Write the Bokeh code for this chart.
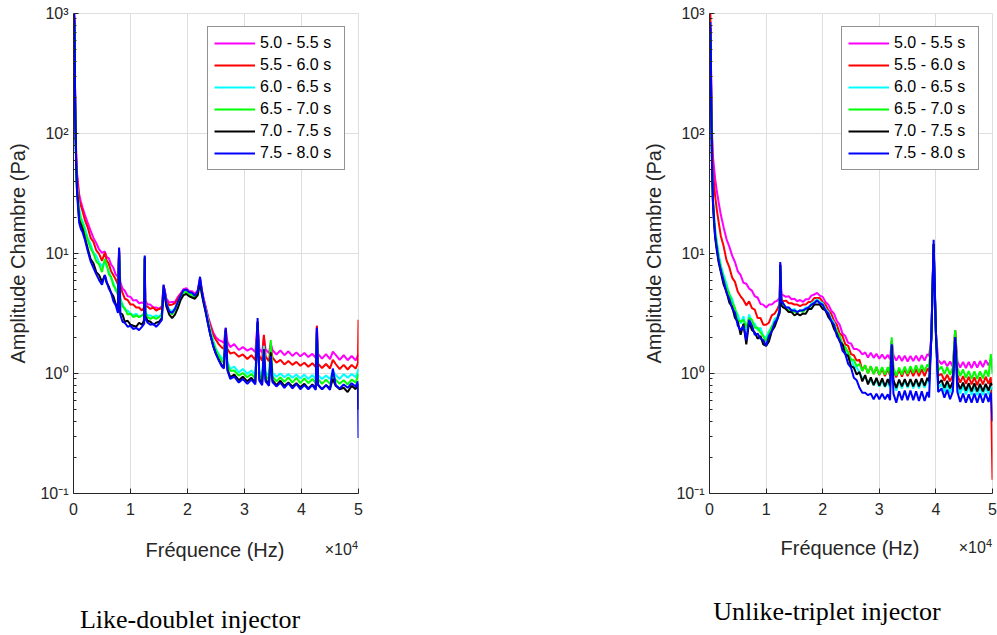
from bokeh.plotting import figure
from bokeh.models import (FixedTicker, Legend, LegendItem, Range1d, Div,
                          CustomJSTickFormatter)
from bokeh.layouts import row, column
from bokeh.embed import file_html
from bokeh.resources import INLINE

LABELS = ["5.0 - 5.5 s", "5.5 - 6.0 s", "6.0 - 6.5 s", "6.5 - 7.0 s", "7.0 - 7.5 s", "7.5 - 8.0 s"]
COLORS = ["#FF00FF", "#FF0000", "#00FFFF", "#00FF00", "#000000", "#0000FF"]
CAPTIONS = ["Like-doublet injector", "Unlike-triplet injector"]
X_LABEL = "Fréquence (Hz)"
Y_LABEL = "Amplitude Chambre (Pa)"
X_TICKS = [0, 10000, 20000, 30000, 40000, 50000]
X_TICK_LABELS = ["0", "1", "2", "3", "4", "5"]
Y_TICKS = [0.1, 1, 10, 100, 1000]
Y_MINOR = [0.2, 0.3, 0.4, 0.5, 0.6, 0.7, 0.8, 0.9, 2, 3, 4, 5, 6, 7, 8, 9,
           20, 30, 40, 50, 60, 70, 80, 90, 200, 300, 400, 500, 600, 700, 800, 900]

# ---------------- Like-doublet injector (left) ----------------
F_LEFT = [150, 250, 350, 450, 600, 800, 1000, 1300, 1600, 2000,
          2500, 3000, 3500, 4000, 4500, 5000, 5500, 5800, 6200, 6600,
          7000, 7400, 7800, 8000, 8200, 8600, 9000, 9500, 10000, 10500,
          11000, 11500, 12000, 12400, 12500, 12600, 13000, 13500, 14000, 14500,
          15000, 15500, 15800, 16000, 16300, 16800, 17300, 17800, 18300, 18800,
          19300, 19800, 20300, 20800, 21300, 21800, 22200, 22500, 22800, 23200,
          23600, 24000, 24500, 25000, 25500, 26000, 26400, 26700, 27000, 27500,
          28200, 29000, 29700, 30500, 31200, 31900, 32300, 32600, 33100, 33400,
          33700, 34300, 34600, 34900, 35600, 36300, 37000, 37700, 38400, 39100,
          39800, 40500, 41200, 41900, 42500, 42700, 42900, 43600, 44300, 45000,
          45500, 46000, 46700, 47400, 48100, 48800, 49500, 49900, 50000]

M_LEFT = [900, 300, 130, 75, 48, 38, 31, 27, 24, 21,
          18, 15.5, 13.5, 12.2, 10.8, 10.1, 10.4, 9.4, 9.1, 8.1,
          7.6, 6.7, 6.4, 11.0, 5.8, 5.1, 4.9, 4.4, 4.35, 4.05,
          4.1, 3.85, 3.9, 3.85, 9.0, 4.05, 3.75, 3.75, 3.55, 3.55,
          3.45, 3.65, 5.3, 5.0, 4.2, 3.9, 3.95, 3.95, 4.35, 4.65,
          5.05, 5.15, 4.85, 4.85, 4.6, 4.95, 6.2, 5.0, 4.3, 3.6,
          3.0, 2.6, 2.2, 2.0, 1.9, 1.85, 1.8, 2.4, 1.84, 1.66,
          1.76, 1.57, 1.66, 1.55, 1.62, 1.51, 2.7, 1.6, 1.5, 2.0,
          1.59, 1.48, 1.8, 1.57, 1.44, 1.56, 1.42, 1.53, 1.4, 1.5,
          1.39, 1.48, 1.37, 1.46, 1.35, 2.5, 1.46, 1.33, 1.45, 1.32,
          1.52, 1.43, 1.3, 1.42, 1.29, 1.4, 1.29, 1.42, 1.4]

R_LEFT = [950, 280, 120, 70, 45, 36, 28, 25, 22.5, 19,
          16.5, 13.5, 12.5, 10.6, 9.9, 8.7, 10.2, 8.8, 8.2, 7.1,
          6.6, 6.1, 5.5, 10.5, 5.3, 4.7, 4.2, 4.1, 3.75, 3.75,
          3.55, 3.55, 3.35, 3.55, 9.0, 3.65, 3.6, 3.45, 3.55, 3.35,
          3.45, 3.5, 5.4, 4.9, 4.0, 3.7, 3.75, 3.85, 4.2, 4.6,
          4.9, 5.0, 4.75, 4.7, 4.5, 4.8, 6.0, 4.9, 4.2, 3.5,
          2.9, 2.5, 2.1, 1.9, 1.75, 1.65, 1.6, 2.3, 1.6, 1.47,
          1.5, 1.38, 1.44, 1.32, 1.42, 1.29, 2.6, 1.4, 1.28, 2.1,
          1.39, 1.26, 1.7, 1.36, 1.23, 1.3, 1.19, 1.27, 1.18, 1.25,
          1.16, 1.23, 1.14, 1.22, 1.13, 2.5, 1.21, 1.11, 1.2, 1.1,
          1.3, 1.2, 1.09, 1.18, 1.08, 1.18, 1.1, 1.22, 2.8]

C_LEFT = [850, 250, 110, 60, 38, 29, 24, 20, 18.5, 16.5,
          13.5, 12, 10.2, 9.6, 8.4, 7.8, 8.6, 7.8, 7.2, 6.2,
          5.7, 4.9, 4.7, 10.0, 4.1, 3.8, 3.4, 3.35, 3.15, 3.05,
          3.15, 2.95, 3.05, 3.2, 9.0, 3.3, 3.05, 3.05, 2.95, 3.05,
          2.95, 3.2, 5.2, 4.7, 3.8, 3.4, 3.3, 3.5, 3.9, 4.4,
          4.8, 4.9, 4.7, 4.6, 4.4, 4.7, 5.9, 4.8, 4.1, 3.4,
          2.8, 2.3, 1.9, 1.6, 1.45, 1.35, 1.3, 2.2, 1.26, 1.09,
          1.14, 1.02, 1.09, 0.99, 1.06, 0.97, 2.5, 1.04, 0.96, 1.7,
          1.03, 0.95, 1.6, 1.02, 0.94, 1.0, 0.93, 0.99, 0.92, 0.98,
          0.91, 0.98, 0.9, 0.97, 0.9, 2.3, 0.97, 0.9, 0.96, 0.9,
          1.05, 0.97, 0.9, 0.99, 0.92, 0.99, 0.93, 1.05, 1.1]

G_LEFT = [800, 240, 105, 58, 36, 27, 22, 19, 17.5, 15,
          13, 11, 10, 8.6, 8.1, 7.0, 9.0, 8.2, 6.7, 6.4,
          5.4, 5.1, 4.5, 10.2, 4.3, 3.6, 3.5, 3.1, 3.15, 2.95,
          3.05, 2.95, 3.05, 3.1, 9.2, 3.2, 2.95, 2.85, 2.95, 2.85,
          2.95, 3.1, 5.1, 4.6, 3.8, 3.3, 3.1, 3.4, 3.8, 4.3,
          4.7, 4.8, 4.6, 4.5, 4.3, 4.6, 5.8, 4.7, 4.0, 3.3,
          2.7, 2.2, 1.8, 1.55, 1.4, 1.28, 1.22, 2.2, 1.19, 1.05,
          1.06, 0.96, 1.01, 0.93, 0.99, 0.91, 2.6, 0.97, 0.89, 1.6,
          0.96, 0.88, 1.9, 0.95, 0.86, 0.93, 0.85, 0.93, 0.84, 0.92,
          0.83, 0.91, 0.83, 0.9, 0.83, 2.2, 0.9, 0.82, 0.89, 0.82,
          0.95, 0.89, 0.82, 0.88, 0.81, 0.89, 0.84, 0.95, 1.0]

K_LEFT = [880, 260, 110, 62, 35, 26, 19, 17.5, 16, 13.5,
          11, 9, 8.3, 7.0, 6.6, 5.8, 6.6, 5.7, 5.3, 4.7,
          4.4, 3.8, 3.6, 10.5, 3.2, 3.1, 2.7, 2.75, 2.55, 2.5,
          2.45, 2.65, 2.55, 2.8, 9.4, 3.0, 2.75, 2.7, 2.55, 2.65,
          2.7, 2.9, 5.0, 4.5, 3.6, 3.1, 2.9, 3.1, 3.5, 4.1,
          4.5, 4.6, 4.4, 4.3, 4.2, 4.5, 5.8, 4.6, 3.9, 3.2,
          2.6, 2.1, 1.7, 1.45, 1.3, 1.18, 1.12, 2.3, 1.09, 0.93,
          0.98, 0.88, 0.94, 0.86, 0.92, 0.84, 2.7, 0.9, 0.83, 1.5,
          0.89, 0.82, 1.5, 0.88, 0.8, 0.87, 0.79, 0.84, 0.78, 0.83,
          0.77, 0.82, 0.75, 0.81, 0.75, 2.2, 0.81, 0.74, 0.8, 0.75,
          0.9, 0.79, 0.74, 0.76, 0.7, 0.79, 0.74, 0.82, 0.5]

B_LEFT = [1000, 280, 115, 60, 34, 24, 18, 16, 15, 13,
          10.5, 8.6, 7.6, 6.7, 6.0, 5.5, 6.6, 5.9, 5.1, 4.7,
          4.0, 3.7, 3.2, 11.2, 3.1, 2.7, 2.65, 2.45, 2.5, 2.35,
          2.4, 2.3, 2.45, 2.6, 9.6, 2.9, 2.65, 2.55, 2.6, 2.45,
          2.6, 2.8, 5.5, 4.8, 3.8, 3.3, 3.2, 3.45, 3.95, 4.45,
          4.95, 5.0, 4.75, 4.7, 4.45, 4.85, 6.4, 5.0, 4.1, 3.3,
          2.6, 2.1, 1.7, 1.45, 1.28, 1.15, 1.1, 2.4, 1.06, 0.9,
          0.94, 0.84, 0.9, 0.82, 0.89, 0.81, 2.9, 0.87, 0.8, 1.6,
          0.86, 0.79, 1.4, 0.85, 0.78, 0.84, 0.76, 0.83, 0.75, 0.82,
          0.74, 0.8, 0.74, 0.8, 0.73, 2.4, 0.8, 0.74, 0.8, 0.73,
          1.1, 0.8, 0.75, 0.81, 0.76, 0.83, 0.78, 0.86, 0.29]

# ---------------- Unlike-triplet injector (right) ----------------
F_RIGHT = [150, 250, 350, 450, 600, 800, 1000, 1300, 1600, 2000,
           2500, 3000, 3500, 4000, 4500, 5000, 5500, 6000, 6500, 7000,
           7500, 8000, 8500, 9000, 9500, 10000, 10500, 11000, 11500, 12000,
           12400, 12500, 12700, 13000, 13500, 14000, 14500, 15000, 15500, 16000,
           16500, 17000, 17500, 18000, 18500, 19000, 19500, 20000, 20500, 21000,
           21500, 22000, 22500, 23000, 23500, 24000, 24500, 25000, 25500, 26000,
           26500, 27000, 27500, 28000, 28500, 29000, 29500, 30000, 30500, 31000,
           31500, 31900, 32200, 32500, 33000, 33500, 34000, 34500, 35000, 35500,
           36000, 36500, 37000, 37500, 38000, 38500, 38800, 39200, 39600, 40000,
           40400, 41000, 41500, 42000, 42500, 43000, 43400, 43800, 44300, 44800,
           45300, 45800, 46300, 46800, 47300, 47800, 48300, 48800, 49300, 49700, 50000]

M_RIGHT = [800, 400, 180, 100, 65, 52, 42, 33, 27, 21,
           16.5, 13.2, 11.4, 9.6, 8.5, 7.1, 6.6, 5.7, 5.6, 5.1,
           4.9, 4.4, 4.3, 3.8, 3.75, 3.55, 3.75, 3.75, 3.95, 4.05,
           4.3, 8.2, 4.6, 4.5, 4.35, 4.4, 4.15, 4.2, 4.0, 4.1,
           3.95, 4.15, 4.15, 4.45, 4.55, 4.7, 4.45, 4.35, 3.95, 3.75,
           3.35, 3.15, 2.75, 2.55, 2.15, 2.05, 1.8, 1.78, 1.6, 1.6,
           1.55, 1.44, 1.5, 1.36, 1.49, 1.35, 1.46, 1.33, 1.44, 1.32,
           1.43, 1.31, 1.9, 1.42, 1.28, 1.41, 1.27, 1.41, 1.26, 1.4,
           1.27, 1.41, 1.27, 1.42, 1.28, 1.45, 1.4, 2.0, 12, 2.2,
           1.3, 1.2, 1.27, 1.15, 1.26, 1.14, 2.3, 1.26, 1.12, 1.25,
           1.11, 1.25, 1.11, 1.26, 1.12, 1.27, 1.13, 1.29, 1.17, 1.3, 1.3]

R_RIGHT = [1000, 420, 170, 90, 50, 38, 30, 23, 18.5, 14,
           11.5, 8.8, 7.7, 6.3, 5.8, 4.8, 4.4, 4.1, 3.7, 4.0,
           3.5, 3.4, 2.9, 2.9, 2.55, 2.55, 2.65, 3.05, 3.15, 3.45,
           3.8, 8.0, 4.2, 4.0, 4.05, 3.85, 3.85, 3.75, 3.75, 3.65,
           3.75, 3.75, 3.95, 3.95, 4.25, 4.25, 4.25, 3.95, 3.75, 3.35,
           3.15, 2.75, 2.55, 2.15, 2.05, 1.75, 1.7, 1.45, 1.42, 1.28,
           1.3, 1.06, 1.17, 1.0, 1.15, 0.99, 1.12, 0.97, 1.1, 0.95,
           1.09, 0.96, 1.85, 1.06, 0.93, 1.08, 0.94, 1.09, 0.95, 1.09,
           0.95, 1.09, 0.95, 1.09, 0.95, 1.1, 1.04, 2.0, 12, 2.2,
           0.96, 0.99, 0.87, 0.98, 0.86, 0.97, 2.3, 0.97, 0.84, 0.95,
           0.82, 0.94, 0.81, 0.93, 0.8, 0.93, 0.81, 0.94, 0.82, 0.93, 0.13]

C_RIGHT = [700, 300, 120, 55, 30, 21, 16, 12.5, 10, 8,
           6.6, 5.6, 4.6, 4.2, 3.4, 3.1, 2.6, 3.0, 2.3, 3.1,
           2.7, 2.6, 2.3, 2.4, 2.05, 2.0, 2.25, 2.45, 2.85, 2.95,
           3.4, 7.8, 3.9, 3.85, 3.55, 3.55, 3.35, 3.45, 3.25, 3.35,
           3.35, 3.55, 3.55, 3.85, 3.95, 4.15, 3.95, 3.85, 3.45, 3.25,
           2.85, 2.65, 2.25, 2.05, 1.75, 1.65, 1.4, 1.33, 1.15, 1.12,
           1.02, 0.92, 0.93, 0.85, 0.88, 0.8, 0.87, 0.78, 0.86, 0.77,
           0.85, 0.76, 1.8, 0.84, 0.72, 0.87, 0.75, 0.88, 0.76, 0.88,
           0.75, 0.88, 0.75, 0.88, 0.76, 0.89, 0.83, 2.0, 11.5, 2.2,
           0.76, 0.82, 0.7, 0.81, 0.69, 0.81, 2.0, 0.8, 0.68, 0.79,
           0.67, 0.78, 0.66, 0.78, 0.66, 0.77, 0.66, 0.78, 0.67, 0.78, 0.74]

G_RIGHT = [650, 280, 110, 50, 28, 20, 15, 12, 9.5, 7.7,
           6.2, 5.2, 4.6, 3.9, 3.5, 2.8, 2.7, 2.8, 2.4, 2.9,
           2.8, 2.4, 2.4, 2.2, 2.05, 1.85, 2.15, 2.45, 2.65, 2.95,
           3.3, 7.8, 3.8, 3.75, 3.45, 3.35, 3.35, 3.25, 3.25, 3.35,
           3.25, 3.45, 3.45, 3.75, 3.85, 4.05, 3.85, 3.75, 3.35, 3.15,
           2.75, 2.55, 2.25, 2.05, 1.75, 1.65, 1.5, 1.3, 1.3, 1.15,
           1.2, 1.05, 1.17, 1.0, 1.15, 0.99, 1.14, 0.98, 1.13, 0.98,
           1.13, 0.99, 2.0, 1.11, 0.96, 1.12, 0.98, 1.14, 0.99, 1.15,
           1.01, 1.17, 1.02, 1.18, 1.04, 1.19, 1.12, 2.0, 12, 2.2,
           1.06, 1.14, 0.99, 1.13, 0.98, 1.12, 2.3, 1.11, 0.95, 1.08,
           0.92, 1.05, 0.9, 1.04, 0.9, 1.04, 0.91, 1.07, 0.94, 1.45, 1.0]

K_RIGHT = [750, 320, 110, 50, 27, 18, 13.5, 10.5, 8.5, 7,
           5.5, 4.8, 3.9, 3.6, 2.9, 2.7, 2.1, 2.6, 1.75, 2.7,
           2.3, 2.2, 1.95, 2.05, 1.75, 1.7, 1.85, 2.25, 2.45, 2.85,
           3.2, 8.0, 3.7, 3.55, 3.45, 3.25, 3.25, 3.05, 3.15, 3.05,
           3.15, 3.15, 3.45, 3.45, 3.75, 3.75, 3.75, 3.45, 3.35, 2.95,
           2.75, 2.35, 2.15, 1.85, 1.75, 1.45, 1.4, 1.15, 1.12, 0.98,
           1.03, 0.86, 0.97, 0.81, 0.93, 0.8, 0.92, 0.79, 0.91, 0.78,
           0.9, 0.79, 1.7, 0.88, 0.76, 0.89, 0.78, 0.9, 0.78, 0.9,
           0.78, 0.9, 0.78, 0.91, 0.79, 0.92, 0.86, 2.0, 12, 2.1,
           0.82, 0.88, 0.76, 0.87, 0.75, 0.86, 2.0, 0.85, 0.74, 0.84,
           0.72, 0.83, 0.71, 0.83, 0.71, 0.82, 0.71, 0.82, 0.72, 0.83, 0.8]

B_RIGHT = [850, 350, 120, 55, 28, 19, 14, 11, 8.8, 7.2,
           5.9, 4.7, 4.2, 3.5, 3.2, 2.5, 2.3, 2.5, 1.9, 2.8,
           2.5, 2.1, 2.15, 1.95, 1.9, 1.7, 2.05, 2.25, 2.65, 2.85,
           3.4, 8.5, 4.0, 3.85, 3.55, 3.55, 3.35, 3.35, 3.25, 3.35,
           3.35, 3.45, 3.55, 3.75, 3.85, 4.05, 3.85, 3.75, 3.35, 3.15,
           2.75, 2.55, 2.05, 1.9, 1.55, 1.45, 1.2, 1.12, 0.92, 0.88,
           0.76, 0.69, 0.69, 0.66, 0.68, 0.61, 0.68, 0.61, 0.68, 0.61,
           0.67, 0.6, 1.75, 0.68, 0.57, 0.71, 0.6, 0.72, 0.6, 0.72,
           0.6, 0.71, 0.59, 0.71, 0.59, 0.7, 0.63, 2.1, 13, 2.3,
           0.7, 0.75, 0.63, 0.73, 0.61, 0.71, 2.0, 0.7, 0.58, 0.68,
           0.57, 0.67, 0.57, 0.68, 0.57, 0.68, 0.57, 0.68, 0.58, 0.69, 0.4]

LEFT_SERIES = [M_LEFT, R_LEFT, C_LEFT, G_LEFT, K_LEFT, B_LEFT]
RIGHT_SERIES = [M_RIGHT, R_RIGHT, C_RIGHT, G_RIGHT, K_RIGHT, B_RIGHT]

AX_COLOR = "#262626"
GRID_COLOR = "#DEDEDE"
SANS = "Liberation Sans"

Y_FMT_CODE = """
const e = Math.round(Math.log10(tick));
const sup = {"-1": "\\u207b\\u00b9", "0": "\\u2070", "1": "\\u00b9", "2": "\\u00b2", "3": "\\u00b3"};
return "10" + sup[String(e)];
"""


def make_panel(freq, series, width, mb_left, mb_right, mb_top, mb_bottom):
    p = figure(width=width, height=532, x_range=Range1d(0, 50000),
               y_range=Range1d(0.1, 1000), y_axis_type="log",
               output_backend="svg", toolbar_location=None,
               min_border_left=mb_left, min_border_right=mb_right,
               min_border_top=mb_top, min_border_bottom=mb_bottom)
    p.background_fill_color = "white"
    p.border_fill_color = "white"
    p.outline_line_color = GRID_COLOR
    p.outline_line_width = 1

    items = []
    for lab, col, vals in zip(LABELS, COLORS, series):
        r = p.line(freq, vals, line_color=col, line_width=2)
        items.append(LegendItem(label=lab, renderers=[r]))

    legend = Legend(items=items, location="top_right", margin=13, padding=6,
                    spacing=2, label_height=20, glyph_height=20, glyph_width=41,
                    label_width=78, label_standoff=5,
                    label_text_font=SANS, label_text_font_size="16px",
                    label_text_color="#000000",
                    border_line_color=AX_COLOR, border_line_width=1.5,
                    background_fill_color="white", background_fill_alpha=1.0)
    p.add_layout(legend)

    xa = p.xaxis[0]
    xa.ticker = FixedTicker(ticks=X_TICKS)
    xa.major_label_overrides = dict(zip(X_TICKS, X_TICK_LABELS))
    xa.major_label_text_font = SANS
    xa.major_label_text_font_size = "16px"
    xa.major_label_text_color = AX_COLOR
    xa.major_label_standoff = 9
    xa.axis_line_color = AX_COLOR
    xa.major_tick_line_color = AX_COLOR
    xa.major_tick_in = 5
    xa.major_tick_out = 0
    xa.minor_tick_line_color = None

    ya = p.yaxis[0]
    ya.ticker = FixedTicker(ticks=Y_TICKS, minor_ticks=Y_MINOR)
    ya.formatter = CustomJSTickFormatter(code=Y_FMT_CODE)
    ya.axis_label = Y_LABEL
    ya.axis_label_text_font = SANS
    ya.axis_label_text_font_size = "20px"
    ya.axis_label_text_font_style = "normal"
    ya.axis_label_text_color = AX_COLOR
    ya.axis_label_standoff = 8
    ya.major_label_text_font = SANS
    ya.major_label_text_font_size = "16px"
    ya.major_label_text_color = AX_COLOR
    ya.major_label_standoff = 5
    ya.axis_line_color = AX_COLOR
    ya.major_tick_line_color = AX_COLOR
    ya.minor_tick_line_color = AX_COLOR
    ya.major_tick_in = 5
    ya.major_tick_out = 0
    ya.minor_tick_in = 3
    ya.minor_tick_out = 0

    p.xgrid.ticker = FixedTicker(ticks=X_TICKS)
    p.ygrid.ticker = FixedTicker(ticks=Y_TICKS)
    p.xgrid.grid_line_color = GRID_COLOR
    p.ygrid.grid_line_color = GRID_COLOR
    p.ygrid.minor_grid_line_color = None
    return p


p_left = make_panel(F_LEFT, LEFT_SERIES, width=373,
                    mb_left=73, mb_right=15, mb_top=13, mb_bottom=35)
p_right = make_panel(F_RIGHT, RIGHT_SERIES, width=624,
                     mb_left=336, mb_right=5, mb_top=12, mb_bottom=39)


def span(text, left=None, right=None, top=0, size=18, family=SANS, color=AX_COLOR, center=True):
    pos = f"left:{left}px;" if left is not None else f"right:{right}px;"
    tr = "translate(-50%,-50%)" if center else "translateY(-50%)"
    return (f'<span style="position:absolute;{pos}top:{top}px;transform:{tr};'
            f"font-family:'{family}';font-size:{size}px;color:{color};white-space:nowrap;"
            f'line-height:1;">{text}</span>')


x10 = '\u00d710<sup style="font-size:11px;line-height:0;">4</sup>'
html = ('<div style="position:relative;width:997px;height:103px;">'
        + span(X_LABEL, left=215, top=18, size=20)
        + span(x10, right=639, top=18, size=16, center=False)
        + span(X_LABEL, left=850, top=16, size=20)
        + span(x10, right=5, top=16, size=16, center=False)
        + span(CAPTIONS[0], left=190, top=88, size=26, family="Liberation Serif", color="#000000")
        + span(CAPTIONS[1], left=827, top=80, size=26, family="Liberation Serif", color="#000000")
        + '</div>')
bottom = Div(text=html, width=997, height=103, margin=(0, 0, 0, 0))

layout = column(row(p_left, p_right), bottom)
open("out.html", "w").write(file_html(layout, INLINE))
